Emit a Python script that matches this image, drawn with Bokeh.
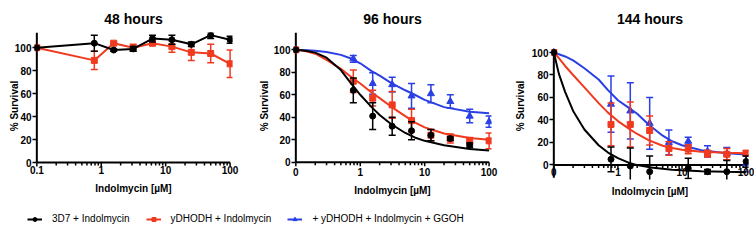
import numpy as np
from bokeh.plotting import figure
from bokeh.layouts import column, row
from bokeh.models import FixedTicker, Legend, LegendItem, Range1d
from bokeh.embed import file_html
from bokeh.resources import INLINE

# ---------------- data ----------------
# Indolmycin concentration (µM); the untreated control (0 µM) is drawn at 0.1
dose = [0.1, 0.78, 1.56, 3.13, 6.25, 12.5, 25, 50, 100]

# 48 hours
black48 = [100, 104, 98, 99, 108, 107, 103, 111, 107]
black48_err = [0, 7, 1, 2, 3, 4, 2, 3, 3]
red48 = [100, 89, 104, 100, 104, 101, 96, 95, 86]
red48_err = [0, 8, 1, 3, 2, 5, 7, 8, 12]

# 96 hours
dose_black96 = [0.1, 0.78, 1.56, 3.13, 6.25, 12.5, 25, 50]
black96 = [100, 64, 41, 32, 28, 24, 21, 15]
black96_err = [0, 11, 12, 8, 8, 5, 1.5, 2]
red96 = [100, 72, 57, 51, 37, 24, 21, 19, 19]
red96_err = [0, 10, 7, 12, 10, 5, 4, 3, 7]
blue96 = [100, 92, 70, 69, 59, 61, 54, 41, 36]
blue96_err = [0, 3, 9.5, 6.5, 11, 8, 6, 6, 5]

# 144 hours
dose_black144 = [0.1, 0.78, 1.56, 3.13, 12.5, 25, 50, 100]
black144 = [100, 5, -1, -6, -3, -6, -6, 3]
black144_err = [0, 11, 16, 14, 9, 2, 10, 5]
red144 = [100, 36, 36, 30.6, 14.5, 14, 10, 9.5, 10.5]
red144_err = [0, 19, 20, 13, 6, 4, 3, 5, 2]
blue144 = [100, 54, 48, 37, 20, 21, 12, 10, 1]
blue144_err = [0, 25, 25, 23, 11, 3.5, 5, 5.5, 7]

# fitted dose-response curves
curve_x = [0.1, 0.12, 0.15, 0.2, 0.3, 0.5, 0.7, 1, 1.5, 2, 3, 5, 7, 10, 20, 50, 100]
black96_fit = [100, 99.5, 99, 97.5, 93, 82, 71, 60, 49, 42, 34, 26, 22, 19, 15, 11.8, 10.5]
red96_fit = [100, 99.5, 98.5, 96.5, 91, 83, 76.5, 70, 62, 57, 49.5, 41, 35.5, 31, 25.5, 21.5, 20]
blue96_fit = [100, 99.9, 99.7, 99.2, 98, 95.5, 92.5, 88, 81, 77, 70.5, 64, 60, 55.5, 49, 44.8, 43.5]
black144_fit = [100, 81, 65, 48, 31.5, 17.5, 11, 6, 1.8, -0.2, -2, -3.5, -4.3, -4.8, -5.6, -6.2, -6.5]
red144_fit = [100, 95, 88, 80, 69, 55, 46.5, 39, 32, 27.5, 22, 17, 15, 13.5, 11.7, 10.7, 10.4]
blue144_fit = [100, 98.5, 96.5, 93, 86, 76, 66.5, 57.5, 50.5, 45.5, 36, 26, 21, 17.5, 13, 10.4, 9.2]

x_major = [0.1, 1, 10, 100]
x_minor = [m * d for d in (0.1, 1, 10) for m in range(2, 10)]
y_ticks = [0, 20, 40, 60, 80, 100]
titles = ["48 hours", "96 hours", "144 hours"]
series_names = ["3D7 + Indolmycin", "yDHODH + Indolmycin", "+ yDHODH + Indolmycin + GGOH"]

FONT = "Liberation Sans"
BLACK = "#000000"
RED = "#f03a1f"
BLUE = "#2a3fe4"
X_LO, X_HI = 0.092, 109
FIG_H = 207


def make_panel(title, width, bl, br, y_range, y_axis_span, px_per_unit, x_labels,
               y_label_standoff, x_tick_label_standoff, x_label_standoff):
    p = figure(width=width, height=FIG_H, x_axis_type="log", x_range=(X_LO, X_HI),
               y_range=y_range, output_backend="svg", toolbar_location=None,
               min_border_left=bl, min_border_right=br, min_border_top=32,
               min_border_bottom=28)
    p.title.text = title
    p.title.align = "center"
    p.title.text_font = FONT
    p.title.text_font_size = "14px"
    p.title.text_font_style = "bold"
    p.title.text_color = BLACK
    p.title.standoff = 11
    p.outline_line_color = None
    p.xgrid.visible = False
    p.ygrid.visible = False

    # x axis: Bokeh supplies the labels, the line and ticks are drawn at y = 0
    xa = p.xaxis[0]
    xa.ticker = FixedTicker(ticks=x_major, minor_ticks=x_minor)
    xa.major_label_overrides = x_labels
    xa.axis_label = "Indolmycin [µM]"
    xa.axis_line_color = None
    xa.major_tick_line_color = None
    xa.minor_tick_line_color = None
    xa.major_tick_out = 0
    xa.minor_tick_out = 0
    xa.major_tick_in = 0
    xa.minor_tick_in = 0
    xa.major_label_standoff = x_tick_label_standoff
    xa.axis_label_standoff = x_label_standoff

    ya = p.yaxis[0]
    ya.ticker = FixedTicker(ticks=y_ticks)
    ya.axis_label = "% Survival"
    ya.axis_label_standoff = y_label_standoff
    ya.axis_line_color = None
    ya.major_tick_out = 2
    ya.major_tick_in = 2
    ya.major_tick_line_width = 1.5
    ya.major_label_standoff = 1
    for ax in (xa, ya):
        ax.major_label_text_font = FONT
        ax.major_label_text_font_size = "10px"
        ax.major_label_text_font_style = "bold"
        ax.major_label_text_color = BLACK
        ax.axis_label_text_font = FONT
        ax.axis_label_text_font_size = "10px"
        ax.axis_label_text_font_style = "bold"
        ax.axis_label_text_color = BLACK

    zero = y_ticks[0]
    # y-axis line at the 0-dose position
    p.segment(x0=[x_major[0]], y0=[y_axis_span[0]], x1=[x_major[0]], y1=[y_axis_span[1]],
              line_color=BLACK, line_width=2)
    # x-axis line and outward ticks at y = 0
    p.segment(x0=[x_major[0]], y0=[zero], x1=[x_major[-1]], y1=[zero],
              line_color=BLACK, line_width=2)
    major_len = 4 / px_per_unit
    minor_len = 3 / px_per_unit
    p.segment(x0=x_major, y0=[zero] * len(x_major), x1=x_major,
              y1=[zero - major_len] * len(x_major), line_color=BLACK, line_width=1.5)
    p.segment(x0=x_minor, y0=[zero] * len(x_minor), x1=x_minor,
              y1=[zero - minor_len] * len(x_minor), line_color=BLACK, line_width=1.5)
    return p


def add_series(p, x, y, err, color, marker, size, fit=None, connect=False):
    x = np.asarray(x, float)
    y = np.asarray(y, float)
    e = np.asarray(err, float)
    if fit is not None:
        p.line(curve_x, fit, line_color=color, line_width=2)
    if connect:
        p.line(x, y, line_color=color, line_width=2)
    m = e > 0
    p.segment(x0=x[m], y0=(y - e)[m], x1=x[m], y1=(y + e)[m], line_color=color, line_width=1.5)
    p.scatter(np.r_[x[m], x[m]], np.r_[(y - e)[m], (y + e)[m]], marker="dash", size=7,
              line_color=color, line_width=1.5)
    p.scatter(x, y, marker=marker, size=size, fill_color=color, line_color=color)


p1 = make_panel(titles[0], 250, 34, 18, (-14.8, 113.3), (0, 113.3), 1.147,
                {0.1: "0.1", 1: "1", 10: "10", 100: "100"}, -8, -14, 6)
add_series(p1, dose, red48, red48_err, RED, "square", 6, connect=True)
add_series(p1, dose, black48, black48_err, BLACK, "circle", 6, connect=True)

p2 = make_panel(titles[1], 260, 43, 19, (-15.4, 115.4), (0, 115.4), 1.124,
                {0.1: "0", 1: "1", 10: "10", 100: "100"}, 1, -12, 6)
add_series(p2, dose, blue96, blue96_err, BLUE, "triangle", 7, fit=blue96_fit)
add_series(p2, dose, red96, red96_err, RED, "square", 6, fit=red96_fit)
add_series(p2, dose_black96, black96, black96_err, BLACK, "circle", 6, fit=black96_fit)

# 144 h: the y axis continues below the x axis
p3 = make_panel(titles[2], 244, 41, 6, (-13, 117.8), (-11.5, 100), 1.123,
                {0.1: "0", 1: "1", 10: "10", 100: "100"}, 3, -12, 7)
add_series(p3, dose, blue144, blue144_err, BLUE, "triangle", 7, fit=blue144_fit)
add_series(p3, dose, red144, red144_err, RED, "square", 6, fit=red144_fit)
add_series(p3, dose_black144, black144, black144_err, BLACK, "circle", 6, fit=black144_fit)

# legend strip (its renderers hold the 48 h data but lie outside its view)
pl = figure(width=754, height=34, output_backend="svg", toolbar_location=None,
            x_axis_location=None, y_axis_location=None, min_border=0,
            x_range=Range1d(-3, -2), y_range=Range1d(-3, -2))
pl.outline_line_color = None
pl.xgrid.visible = False
pl.ygrid.visible = False
items = []
for name, color, marker, size in zip(series_names, [BLACK, RED, BLUE],
                                      ["circle", "square", "triangle"], [6, 6, 7]):
    r1 = pl.line(dose, black48, line_color=color, line_width=2)
    r2 = pl.scatter(dose, black48, marker=marker, size=size, fill_color=color, line_color=color)
    items.append(LegendItem(label=name, renderers=[r1, r2]))
leg = Legend(items=items, orientation="horizontal", location=(27, 17),
             glyph_width=15, glyph_height=10, label_standoff=10, spacing=16,
             padding=0, margin=0, border_line_color=None, background_fill_alpha=0,
             label_text_font=FONT, label_text_font_size="10px", label_text_color=BLACK)
pl.add_layout(leg)

layout = column(row(p1, p2, p3), pl)
open("out.html", "w").write(file_html(layout, INLINE))
